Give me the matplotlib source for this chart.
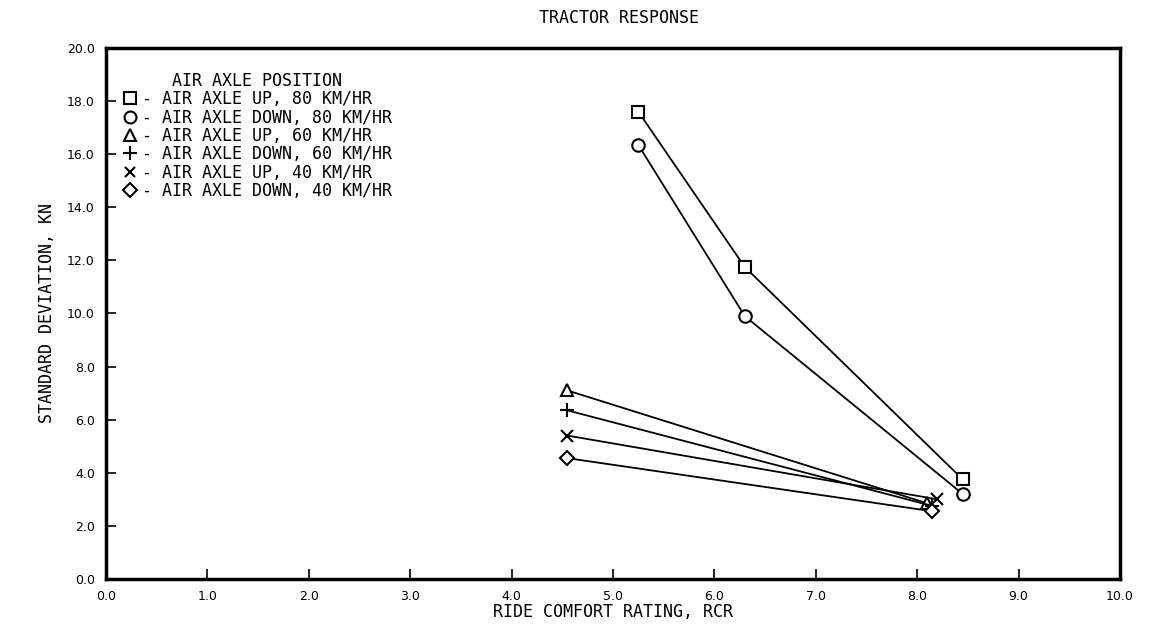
import matplotlib
matplotlib.use("Agg")
import matplotlib.pyplot as plt

plt.rcParams['font.family'] = ['DejaVu Sans']

# Data
rcr_up80 = [5.25, 6.30, 8.45]
sd_up80 = [17.6, 11.75, 3.75]
rcr_down80 = [5.25, 6.30, 8.45]
sd_down80 = [16.35, 9.9, 3.2]
rcr_up60 = [4.55, 8.10]
sd_up60 = [7.1, 2.85]
rcr_down60 = [4.55, 8.15]
sd_down60 = [6.35, 2.75]
rcr_up40 = [4.55, 8.20]
sd_up40 = [5.4, 3.0]
rcr_down40 = [4.55, 8.15]
sd_down40 = [4.55, 2.55]

labels = [
    "- AIR AXLE UP, 80 KM/HR",
    "- AIR AXLE DOWN, 80 KM/HR",
    "- AIR AXLE UP, 60 KM/HR",
    "- AIR AXLE DOWN, 60 KM/HR",
    "- AIR AXLE UP, 40 KM/HR",
    "- AIR AXLE DOWN, 40 KM/HR",
]
xticks = [0, 1, 2, 3, 4, 5, 6, 7, 8, 9, 10]
yticks = [0, 2, 4, 6, 8, 10, 12, 14, 16, 18, 20]

fig = plt.figure(figsize=(11.51, 6.30), dpi=100)
ax = fig.add_axes([0.092, 0.081, 0.881, 0.843])

series = [
    (rcr_up80, sd_up80, 's', 9),
    (rcr_down80, sd_down80, 'o', 9),
    (rcr_up60, sd_up60, '^', 9),
    (rcr_down60, sd_down60, '+', 10),
    (rcr_up40, sd_up40, 'x', 8),
    (rcr_down40, sd_down40, 'D', 7),
]
for (xs, ys, m, ms), lab in zip(series, labels):
    ax.plot(xs, ys, color='black', lw=1.3, marker=m, markersize=ms,
            mfc='white', mec='black', mew=1.5, label=lab)

ax.set_xlim(0, 10)
ax.set_ylim(0, 20)
ax.set_xticks(xticks)
ax.set_yticks(yticks)
ax.set_xticklabels([f"{v:.1f}" for v in xticks])
ax.set_yticklabels([f"{v:.1f}" for v in yticks])
ax.tick_params(direction='in', length=7, width=1.2, labelsize=9, pad=8)
for s in ax.spines.values():
    s.set_linewidth(2.5)

ax.set_xlabel("RIDE COMFORT RATING, RCR", fontsize=12, labelpad=0,
              family='DejaVu Sans Mono')
ax.set_ylabel("STANDARD DEVIATION, KN", fontsize=12, labelpad=8,
              family='DejaVu Sans Mono')
fig.text(0.538, 0.972, "TRACTOR RESPONSE", ha='center', va='center',
         fontsize=12, family='DejaVu Sans Mono')

leg = ax.legend(loc='upper left', bbox_to_anchor=(0.003, 0.98), frameon=False,
                title="AIR AXLE POSITION",
                prop={'family': 'DejaVu Sans Mono', 'size': 12},
                handlelength=0.9, handletextpad=0.3, labelspacing=0.02,
                borderaxespad=0.4, markerscale=0.95)
leg.get_title().set_fontfamily('DejaVu Sans Mono')
leg.get_title().set_fontsize(12)
for h in leg.legend_handles:
    h.set_linestyle('none')

fig.savefig("out.png", dpi=100)
